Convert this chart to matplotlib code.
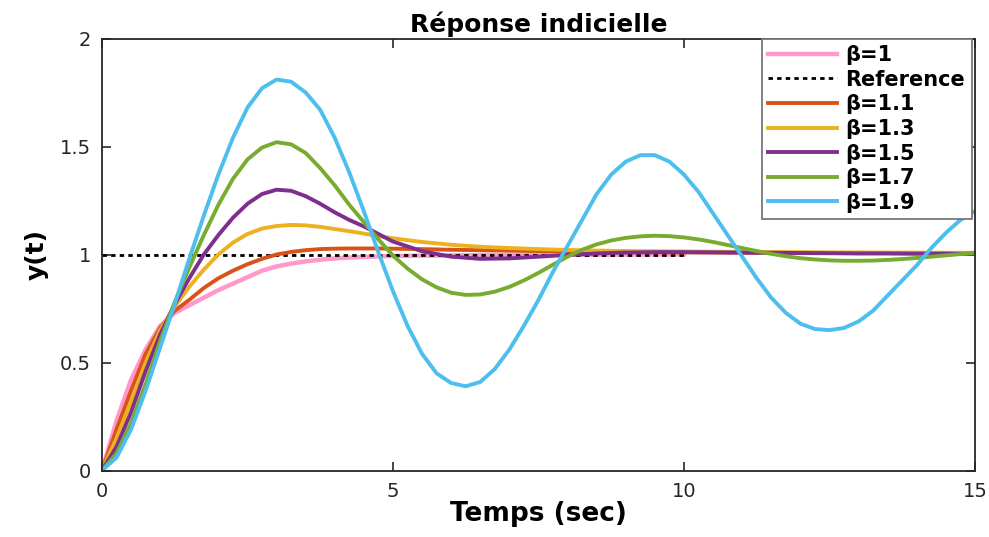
import numpy as np
import matplotlib
matplotlib.use('Agg')
import matplotlib.pyplot as plt

plt.rcParams['font.family'] = ['DejaVu Sans']

# temps (s) - grille grossiere et grille fine
t_coarse = [0, 0.25, 0.5, 0.75, 1.0, 1.25, 1.5, 1.75, 2.0, 2.25, 2.5, 2.75, 3.0, 3.25, 3.5, 3.75,
            4.0, 4.25, 4.5, 4.75, 5.0, 5.5, 6, 6.5, 7, 7.5, 8, 8.5, 9, 9.5, 10,
            10.5, 11, 11.5, 12, 12.5, 13, 13.5, 14, 14.5, 15]
t_fine = [i * 0.25 for i in range(61)]

# beta = 1 (jusqu'a 10 s)
y_b10 = [0, 0.23, 0.42, 0.56, 0.67, 0.73, 0.765, 0.80, 0.835, 0.865, 0.895, 0.925, 0.945, 0.958,
         0.968, 0.976, 0.982, 0.986, 0.989, 0.991, 0.993, 0.995, 0.996, 0.997, 0.998, 0.998,
         0.999, 0.999, 0.999, 1.0, 1.0]
t_ref = [0, 10]
y_ref = [1, 1]
y_b11 = [0, 0.19, 0.37, 0.54, 0.66, 0.74, 0.79, 0.845, 0.89, 0.925, 0.955, 0.98, 1.0, 1.012,
         1.02, 1.025, 1.027, 1.028, 1.028, 1.028, 1.027, 1.025, 1.022, 1.02, 1.018, 1.016,
         1.014, 1.013, 1.012, 1.011, 1.01, 1.009, 1.008, 1.008, 1.007, 1.007, 1.006, 1.006,
         1.005, 1.005, 1.005]
y_b13 = [0, 0.15, 0.32, 0.50, 0.65, 0.76, 0.85, 0.93, 1.0, 1.055, 1.095, 1.12, 1.132, 1.137,
         1.135, 1.128, 1.118, 1.108, 1.097, 1.085, 1.075, 1.058, 1.045, 1.036, 1.03, 1.025,
         1.021, 1.018, 1.016, 1.015, 1.014, 1.013, 1.012, 1.011, 1.011, 1.010, 1.010, 1.009,
         1.009, 1.008, 1.008]
y_b15 = [0, 0.11, 0.27, 0.46, 0.63, 0.77, 0.89, 1.0, 1.09, 1.17, 1.235, 1.28, 1.30, 1.295,
         1.27, 1.235, 1.195, 1.16, 1.13, 1.095, 1.06, 1.015, 0.99, 0.98, 0.982, 0.99, 0.998,
         1.005, 1.009, 1.011, 1.011, 1.01, 1.009, 1.008, 1.007, 1.006, 1.005, 1.005, 1.004,
         1.004, 1.003]
y_b17 = [0, 0.08, 0.22, 0.40, 0.60, 0.78, 0.94, 1.09, 1.23, 1.35, 1.44, 1.495, 1.52, 1.51,
         1.47, 1.40, 1.32, 1.23, 1.15, 1.07, 0.995, 0.935, 0.885, 0.848, 0.823, 0.813, 0.815,
         0.828, 0.85, 0.88, 0.915, 0.953, 0.99, 1.022, 1.047, 1.065, 1.077, 1.084, 1.087,
         1.085, 1.079, 1.07, 1.058, 1.044, 1.03, 1.016, 1.003, 0.992, 0.983, 0.977, 0.973,
         0.971, 0.971, 0.972, 0.975, 0.979, 0.984, 0.99, 0.996, 1.002, 1.008]
y_b19 = [0, 0.06, 0.19, 0.37, 0.57, 0.77, 0.98, 1.18, 1.37, 1.54, 1.68, 1.77, 1.81, 1.80,
         1.75, 1.67, 1.54, 1.38, 1.20, 1.01, 0.83, 0.67, 0.54, 0.45, 0.405, 0.39, 0.41, 0.47,
         0.56, 0.67, 0.79, 0.92, 1.04, 1.16, 1.28, 1.37, 1.43, 1.46, 1.46, 1.43, 1.37, 1.29,
         1.19, 1.09, 0.99, 0.89, 0.80, 0.73, 0.68, 0.655, 0.65, 0.66, 0.69, 0.74, 0.81, 0.88,
         0.95, 1.03, 1.10, 1.16, 1.20]

fig = plt.figure(figsize=(9.89, 5.37), dpi=100)
ax = fig.add_axes([0.1031, 0.1238, 0.8827, 0.8045])

lw = 2.8
ax.plot(t_coarse[:len(y_b10)], y_b10, color='#FF99CC', lw=3.2, label=u'\u03b2=1')
ax.plot(t_ref, y_ref, color='k', lw=2.0, linestyle=(0, (1.6, 1.5)), label='Reference')
ax.plot(t_coarse, y_b11, color='#D95319', lw=lw, label=u'\u03b2=1.1')
ax.plot(t_coarse, y_b13, color='#EDB120', lw=lw, label=u'\u03b2=1.3')
ax.plot(t_coarse, y_b15, color='#7E2F8E', lw=lw, label=u'\u03b2=1.5')
ax.plot(t_fine, y_b17, color='#77AC30', lw=lw, label=u'\u03b2=1.7')
ax.plot(t_fine, y_b19, color='#4DBEEE', lw=lw, label=u'\u03b2=1.9')

ax.set_xlim(0, 15)
ax.set_ylim(0, 2)
ax.set_xticks([0, 5, 10, 15])
ax.set_yticks([0, 0.5, 1, 1.5, 2])
ax.set_xticklabels(['0', '5', '10', '15'])
ax.set_yticklabels(['0', '0.5', '1', '1.5', '2'])
ax.tick_params(direction='in', length=6.5, width=1.2, top=True, right=True,
               labelsize=14, colors='#262626', pad=8)
for s in ax.spines.values():
    s.set_linewidth(1.3)
    s.set_color('#262626')

ax.set_title(u'R\u00e9ponse indicielle', fontsize=18, fontweight='bold', pad=5)
ax.set_xlabel('Temps (sec)', fontsize=19, fontweight='bold', labelpad=0)
ax.set_ylabel('y(t)', fontsize=18, fontweight='bold', labelpad=8)

leg = ax.legend(loc='upper right', bbox_to_anchor=(0.9966, 1.0),
                prop={'weight': 'bold', 'size': 15}, handlelength=3.3, handletextpad=0.4,
                labelspacing=0.22, borderpad=0.32, borderaxespad=0.0, fancybox=False,
                framealpha=1.0)
leg.get_frame().set_edgecolor('#777777')
leg.get_frame().set_linewidth(1.3)

fig.savefig('out.png', dpi=100)
